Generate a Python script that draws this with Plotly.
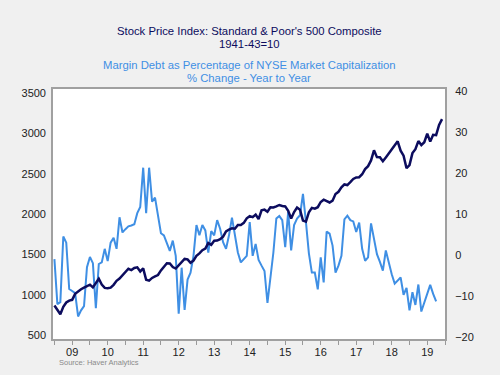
import plotly.graph_objects as go

# ---- Data (monthly, starting January 2009) ----
start_year = 2009

# S&P 500 composite, monthly average (1941-43=10)
sp500 = [
    865.6, 805.2, 757.1, 848.2, 902.4, 926.1, 935.8, 1009.7, 1044.6, 1067.7, 1088.1, 1110.4,
    1123.6, 1089.2, 1152.1, 1197.3, 1125.1, 1083.4, 1079.8, 1087.3, 1122.1, 1171.6, 1198.9, 1241.5,
    1282.6, 1321.1, 1304.5, 1331.5, 1338.3, 1287.3, 1325.2, 1185.3, 1173.9, 1207.2, 1226.4, 1243.3,
    1300.6, 1352.5, 1389.2, 1386.4, 1341.3, 1323.5, 1359.8, 1403.4, 1443.4, 1437.8, 1394.5, 1422.3,
    1480.4, 1512.3, 1550.8, 1570.7, 1639.8, 1618.8, 1668.7, 1670.1, 1687.2, 1720.0, 1783.5, 1807.8,
    1822.4, 1817.0, 1863.5, 1864.3, 1889.8, 1947.1, 1973.1, 1961.5, 1993.2, 1937.3, 2044.6, 2054.3,
    2028.2, 2082.2, 2080.6, 2094.1, 2111.9, 2099.3, 2094.1, 2039.9, 1944.4, 2024.8, 2080.6, 2054.1,
    1918.6, 1904.4, 2022.0, 2075.5, 2065.6, 2083.9, 2148.9, 2177.5, 2157.7, 2143.0, 2165.0, 2246.6,
    2275.1, 2329.9, 2366.8, 2359.3, 2395.4, 2434.0, 2454.1, 2456.2, 2492.8, 2557.0, 2593.6, 2664.3,
    2789.8, 2705.2, 2702.8, 2653.6, 2701.5, 2754.4, 2793.6, 2857.8, 2901.5, 2785.5, 2723.2, 2567.3,
    2607.4, 2754.9, 2804.0, 2903.8, 2854.7, 2890.2, 2996.1, 2897.5, 2982.2, 2977.7, 3104.9, 3176.8,
]

# Margin debt as % of NYSE market cap, % change year to year
margin_debt_yoy = [
    -1.0, -12.0, -11.5, 4.5, 3.0, -8.3, -8.8, -9.3, -15.0, -13.5,
    -12.5, -3.0, -0.5, -2.0, -13.0, -2.2, -1.8, 1.5, -1.5, 3.0,
    4.2, 1.5, 9.2, 5.5, 6.3, 7.0, 7.2, 7.5, 10.2, 11.7,
    21.3, 10.2, 21.3, 13.0, 14.0, 9.7, 5.3, 4.8, 3.0, 1.0,
    3.5, -0.2, -14.3, -3.1, -13.4, -6.0, -4.3, -0.2, 7.3, 4.8,
    7.3, 6.0, 0.6, 5.8, 4.8, 8.5, 6.4, 3.1, 1.5, 4.8,
    9.1, 4.8, 0.6, -1.8, -1.0, -0.2, 8.0, -0.2, 2.7, -1.2,
    -2.6, -3.9, -11.7, -6.0, 0.6, 8.9, 9.5, 8.5, 1.9, 10.5,
    1.1, 7.3, 8.9, 9.7, 14.9, 8.1, 0.4, -4.3, -4.3, -8.4,
    -0.6, -6.7, 5.7, 5.2, 2.3, -4.3, -2.6, -0.2, 8.7, 9.6,
    8.5, 8.2, 5.6, 7.9, 1.5, -1.4, -0.6, 7.7, 3.5, 0.2,
    -1.7, -3.8, 1.1, -2.0, -4.7, -7.0, -6.2, -5.5, -9.7, -8.0,
    -13.5, -9.1, -12.2, -7.2, -13.8, -11.5, -9.0, -7.3, -9.5, -11.3,
]

year_labels = ["09", "10", "11", "12", "13", "14", "15", "16", "17", "18", "19"]
left_ticks = [500, 1000, 1500, 2000, 2500, 3000, 3500]
right_ticks = [-20, -10, 0, 10, 20, 30, 40]

# ---- Build x positions (decimal years) ----
x_sp = [start_year + i / 12 for i in range(len(sp500))]
x_md = [start_year + i / 12 for i in range(len(margin_debt_yoy))]

tickvals = []
ticktext = []
for k, lab in enumerate(year_labels):
    tickvals += [start_year + k, start_year + k + 0.5]
    ticktext += ["", lab]
tickvals.append(start_year + len(year_labels))
ticktext.append("")

NAVY = "#0c0c5e"
BLUE = "#3f8fe4"
BG = "#f0f0f0"
FONT = "Arial, Liberation Sans, sans-serif"
TICKFONT = dict(family=FONT, size=11, color="#222222")

fig = go.Figure()
fig.add_trace(go.Scatter(
    x=x_md, y=margin_debt_yoy, yaxis="y", mode="lines",
    line=dict(color=BLUE, width=2), name="Margin debt"))
fig.add_trace(go.Scatter(
    x=x_sp, y=sp500, yaxis="y2", mode="lines",
    line=dict(color=NAVY, width=2.5), name="S&P 500"))

fig.update_layout(
    width=500, height=375,
    paper_bgcolor=BG, plot_bgcolor="white",
    margin=dict(l=53, r=55, t=89, b=36),
    showlegend=False,
    font=dict(family=FONT, size=11, color="#222222"),
    xaxis=dict(
        range=[2008.96, 2020.0], tickmode="array", tickvals=tickvals, ticktext=ticktext,
        ticks="outside", ticklen=4, tickcolor="#999999", tickwidth=1,
        ticklabelstandoff=-2,
        showgrid=False, zeroline=False, showline=True, mirror=True,
        linecolor="#a0a0a0", linewidth=2, tickfont=TICKFONT,
    ),
    yaxis=dict(
        side="right", range=[-20.5, 40.5], tickmode="array", tickvals=right_ticks,
        showgrid=False, zeroline=False, showline=True, mirror=True,
        linecolor="#a0a0a0", linewidth=2, ticks="", ticklabelstandoff=6,
        tickfont=TICKFONT,
    ),
    yaxis2=dict(
        side="left", overlaying="y", range=[450, 3550], tickmode="array", tickvals=left_ticks,
        showgrid=False, zeroline=False, showline=False, ticks="", ticklabelstandoff=6,
        tickfont=TICKFONT,
    ),
)

titles = [
    ("Stock Price Index: Standard & Poor's 500 Composite", 1.233, NAVY),
    ("1941-43=10", 1.182, NAVY),
    ("Margin Debt as Percentage of NYSE Market Capitalization", 1.096, BLUE),
    ("% Change - Year to Year", 1.042, BLUE),
]
for text, yy, col in titles:
    fig.add_annotation(text=text, xref="paper", yref="paper", x=0.5, y=yy,
                       xanchor="center", yanchor="middle", showarrow=False,
                       font=dict(family=FONT, size=11.3, color=col))

fig.add_annotation(text="Source: Haver Analytics", xref="paper", yref="paper",
                   x=0.01, y=-0.094, xanchor="left", yanchor="middle", showarrow=False,
                   font=dict(family=FONT, size=7.5, color="#8a8a8a"))

fig.write_html(
    "out.html",
    config={"displayModeBar": False},
    post_script="document.body.style.margin='0';document.body.style.background='%s';" % BG,
)
